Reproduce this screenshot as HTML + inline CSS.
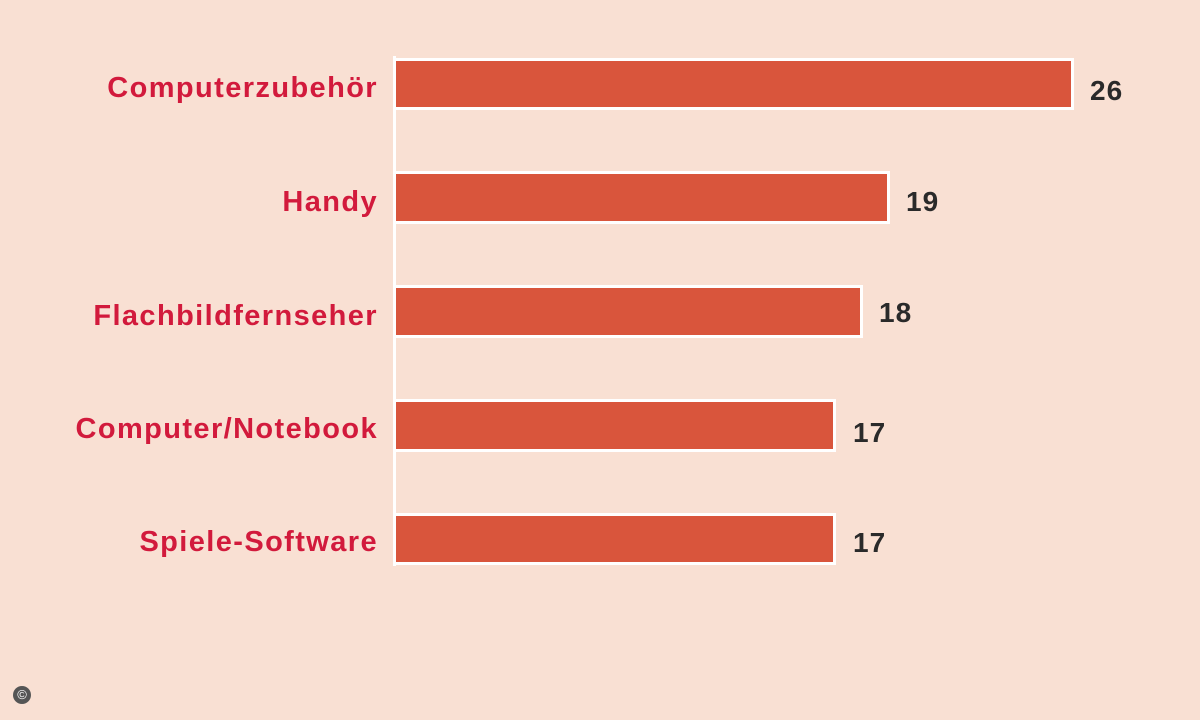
<!DOCTYPE html>
<html><head><style>
body{margin:0;width:1200px;height:720px;background:#f9e0d3;position:relative;overflow:hidden;font-family:"Liberation Sans",sans-serif;font-weight:bold}
.l{position:absolute;right:822px;color:#d21a3c;font-size:29px;line-height:30px;white-space:nowrap;letter-spacing:1.4px}
.b{position:absolute;left:396px;background:#d9553c;border:3px solid #fff;border-left:none;box-sizing:border-box}
.v{position:absolute;color:#2a2a2a;font-size:28px;line-height:30px;letter-spacing:1px}
.vl{position:absolute;left:393px;top:56px;width:3px;height:510px;background:#fff}
</style></head><body>
<div class="vl"></div>
<div class="l" style="top:73px">Computerzubehör</div>
<div class="b" style="top:58px;height:52px;width:678px"></div>
<div class="v" style="left:1090px;top:76px">26</div>
<div class="l" style="top:187px">Handy</div>
<div class="b" style="top:171px;height:53px;width:494px"></div>
<div class="v" style="left:906px;top:187px">19</div>
<div class="l" style="top:301px">Flachbildfernseher</div>
<div class="b" style="top:285px;height:53px;width:467px"></div>
<div class="v" style="left:879px;top:298px">18</div>
<div class="l" style="top:414px">Computer/Notebook</div>
<div class="b" style="top:399px;height:53px;width:440px"></div>
<div class="v" style="left:853px;top:418px">17</div>
<div class="l" style="top:527px">Spiele-Software</div>
<div class="b" style="top:513px;height:52px;width:440px"></div>
<div class="v" style="left:853px;top:528px">17</div>
<div style="position:absolute;left:13px;top:686px;width:18px;height:18px;border-radius:50%;background:#555;color:#fff;font-size:13px;line-height:18px;text-align:center;font-weight:normal">©</div>
</body></html>
